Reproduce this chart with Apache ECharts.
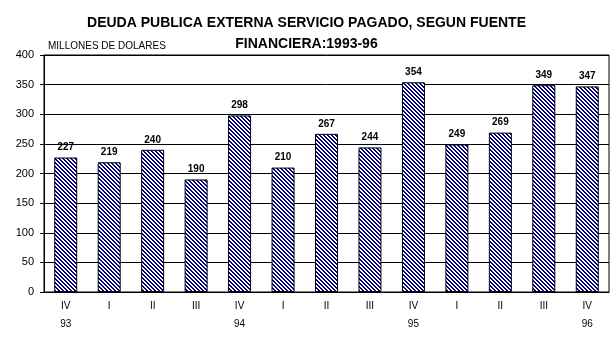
<!DOCTYPE html>
<html><head><meta charset="utf-8">
<script src="https://cdn.jsdelivr.net/npm/echarts@6/dist/echarts.min.js"></script>
<style>html,body{margin:0;padding:0;background:#fff}#c{width:613px;height:338px}</style>
</head><body><div id="c"></div>
<script>
var quarters = ['IV','I','II','III','IV','I','II','III','IV','I','II','III','IV'];
var years = ['93','','','','94','','','','95','','','','96'];
var values = [227,219,240,190,298,210,267,244,354,249,269,349,347];
var yTicks = [0,50,100,150,200,250,300,350,400];

var pc = document.createElement('canvas');
pc.width = 4; pc.height = 4;
var g = pc.getContext('2d');
g.fillStyle = '#ffffff'; g.fillRect(0,0,4,4);
g.fillStyle = '#000080';
for (var y = 0; y < 4; y++) {
  for (var x = 0; x < 4; x++) {
    var d = ((x - y) % 4 + 4) % 4;
    if (d < 2) g.fillRect(x, y, 1, 1);
  }
}

var cats = quarters.map(function(q,i){ return q + '\n' + years[i]; });
var chart = echarts.init(document.getElementById('c'));
chart.setOption({
  animation: false,
  backgroundColor: '#fff',
  title: {
    text: 'DEUDA PUBLICA EXTERNA SERVICIO PAGADO, SEGUN FUENTE\nFINANCIERA:1993-96',
    left: 'center', top: 8,
    textStyle: { fontFamily: '"Liberation Sans Narrow","Arial Narrow","Liberation Sans",sans-serif', fontWeight: 'bold', fontSize: 14, lineHeight: 21, color: '#000' }
  },
  graphic: [{ type: 'text', left: 48, top: 41, style: { text: 'MILLONES DE DOLARES', font: '10px "Liberation Sans", Arial, sans-serif', fill: '#000' } }],
  grid: { left: 44, right: 4, top: 55, bottom: 46, show: true, borderColor: '#000', borderWidth: 1, containLabel: false, outerBoundsMode: 'none' },
  xAxis: {
    type: 'category', data: cats,
    axisLine: { lineStyle: { color: '#000', width: 1 } },
    axisTick: { show: false },
    axisLabel: { color: '#000', fontSize: 10, fontFamily: '"Liberation Sans", Arial, sans-serif', lineHeight: 18, margin: 5 }
  },
  yAxis: {
    type: 'value', min: 0, max: 400, interval: 50,
    axisLine: { show: true, lineStyle: { color: '#000' } },
    axisTick: { show: true, length: 4, lineStyle: { color: '#000' } },
    axisLabel: { color: '#000', fontSize: 11, fontFamily: '"Liberation Sans", Arial, sans-serif', margin: 10 },
    splitLine: { show: true, lineStyle: { color: '#000', width: 1 } }
  },
  series: [{
    type: 'bar', data: values, barWidth: 23,
    itemStyle: { color: { image: pc, repeat: 'repeat' }, borderColor: '#000', borderWidth: 1 },
    label: { show: true, position: 'top', distance: 5, color: '#000', fontWeight: 'bold', fontSize: 10, fontFamily: '"Liberation Sans", Arial, sans-serif' }
  }]
});
</script></body></html>
